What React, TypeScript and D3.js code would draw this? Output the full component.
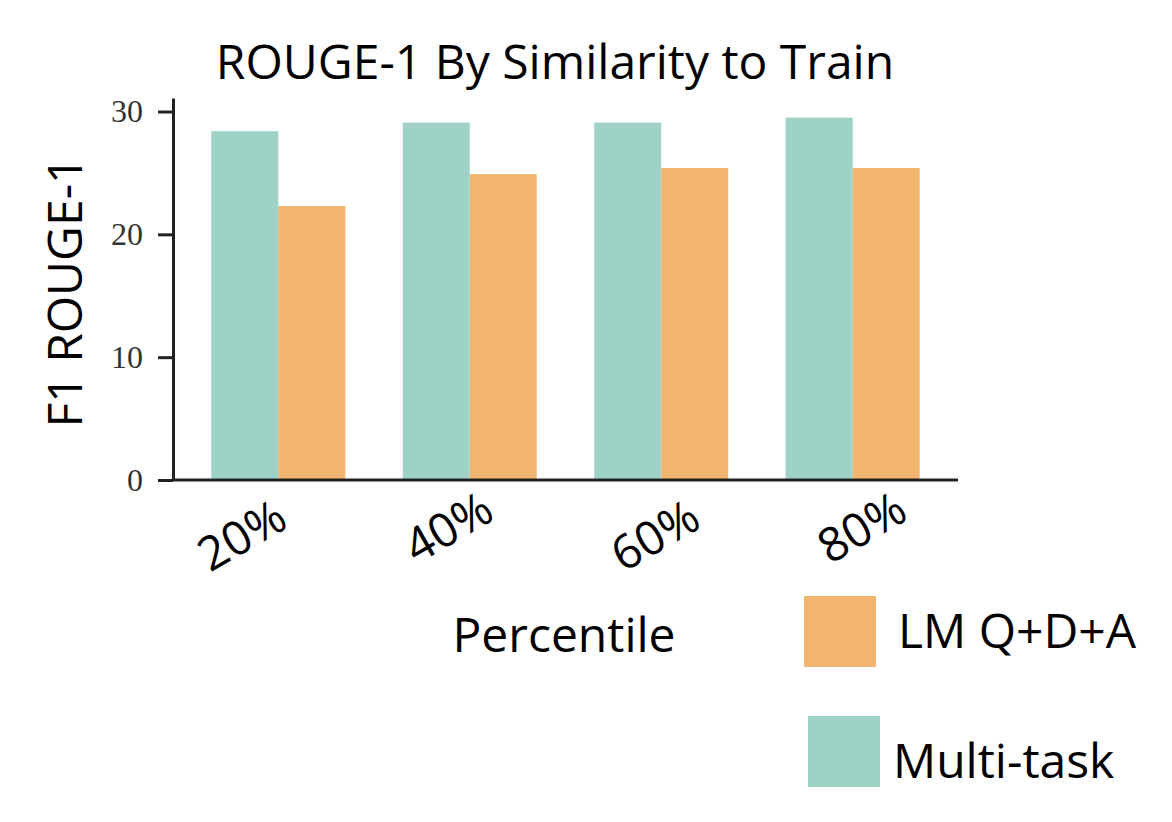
import { useEffect, useRef } from "react";
import * as d3 from "d3";

const categories = ["20%", "40%", "60%", "80%"];
const seriesNames = ["Multi-task", "LM Q+D+A"];
const multiTask = [28.4, 29.1, 29.1, 29.5];
const lmQDA = [22.3, 24.9, 25.4, 25.4];
const yTicks = [0, 10, 20, 30];
const colors = ["#9fd2c7", "#f1b56f"];

export default function App() {
  const svgRef = useRef<SVGSVGElement>(null);

  useEffect(() => {
    if (!svgRef.current) return;
    const svg = d3.select(svgRef.current);
    svg.selectAll("*").remove();

    const width = 1172;
    const height = 822;
    svg.attr("width", width).attr("height", height);

    const sans = "'Open Sans', sans-serif";

    // Scales
    const x = d3
      .scaleBand<string>()
      .domain(categories)
      .range([173, 958])
      .paddingInner(0.3)
      .paddingOuter(0.2);

    const xInner = d3
      .scaleBand<string>()
      .domain(seriesNames)
      .range([0, x.bandwidth()]);

    const y = d3.scaleLinear().domain([0, 31.1]).range([480, 98]);

    const color = d3.scaleOrdinal<string>().domain(seriesNames).range(colors);

    const values: Record<string, number[]> = {
      "Multi-task": multiTask,
      "LM Q+D+A": lmQDA,
    };

    // Bars
    categories.forEach((cat, i) => {
      seriesNames.forEach((s) => {
        svg
          .append("rect")
          .attr("x", (x(cat) ?? 0) + (xInner(s) ?? 0))
          .attr("y", y(values[s][i]))
          .attr("width", xInner.bandwidth())
          .attr("height", y(0) - y(values[s][i]))
          .attr("fill", color(s));
      });
    });

    // Y axis
    const yAxis = svg
      .append("g")
      .attr("transform", `translate(173,0)`)
      .call(
        d3
          .axisLeft(y)
          .tickValues(yTicks)
          .tickSize(15)
          .tickSizeOuter(0)
          .tickPadding(15)
      );
    yAxis.select(".domain").attr("stroke", "#222").attr("stroke-width", 3);
    yAxis.selectAll(".tick line").attr("stroke", "#222").attr("stroke-width", 3);
    yAxis
      .selectAll(".tick text")
      .attr("fill", "#333")
      .style("font-family", "'Liberation Serif', serif")
      .style("font-size", "32px");

    // X axis line
    svg
      .append("line")
      .attr("x1", 173)
      .attr("x2", 958)
      .attr("y1", y(0))
      .attr("y2", y(0))
      .attr("stroke", "#222")
      .attr("stroke-width", 3);

    // Rotated category labels
    const labelPos = d3.scalePoint<string>().domain(categories).range([241, 861]);
    categories.forEach((cat, i) => {
      svg
        .append("text")
        .attr(
          "transform",
          `translate(${labelPos(cat)},${i % 2 === 1 ? 526 : 534}) rotate(-30)`
        )
        .attr("text-anchor", "middle")
        .attr("dominant-baseline", "central")
        .style("font-family", sans)
        .style("font-size", "47px")
        .text(cat);
    });

    // Title
    svg
      .append("text")
      .attr("x", 555)
      .attr("y", 79)
      .attr("text-anchor", "middle")
      .style("font-family", sans)
      .style("font-size", "48px")
      .text("ROUGE-1 By Similarity to Train");

    // Y label
    svg
      .append("text")
      .attr("transform", `translate(82,292) rotate(-90)`)
      .attr("text-anchor", "middle")
      .style("font-family", sans)
      .style("font-size", "48px")
      .text("F1 ROUGE-1");

    // X label
    svg
      .append("text")
      .attr("x", 564)
      .attr("y", 652)
      .attr("text-anchor", "middle")
      .style("font-family", sans)
      .style("font-size", "48px")
      .text("Percentile");

    // Legend
    const legendItems = [
      { name: "LM Q+D+A", rx: 804, ry: 596, tx: 898, ty: 648 },
      { name: "Multi-task", rx: 808, ry: 716, tx: 893, ty: 778 },
    ];
    legendItems.forEach((d) => {
      svg
        .append("rect")
        .attr("x", d.rx)
        .attr("y", d.ry)
        .attr("width", 72)
        .attr("height", 71)
        .attr("fill", color(d.name));
      svg
        .append("text")
        .attr("x", d.tx)
        .attr("y", d.ty)
        .style("font-family", sans)
        .style("font-size", "48px")
        .text(d.name);
    });
  }, []);

  return (
    <div style={{ position: "absolute", left: 0, top: 0, background: "#fff" }}>
      <svg ref={svgRef} style={{ display: "block" }}></svg>
    </div>
  );
}
